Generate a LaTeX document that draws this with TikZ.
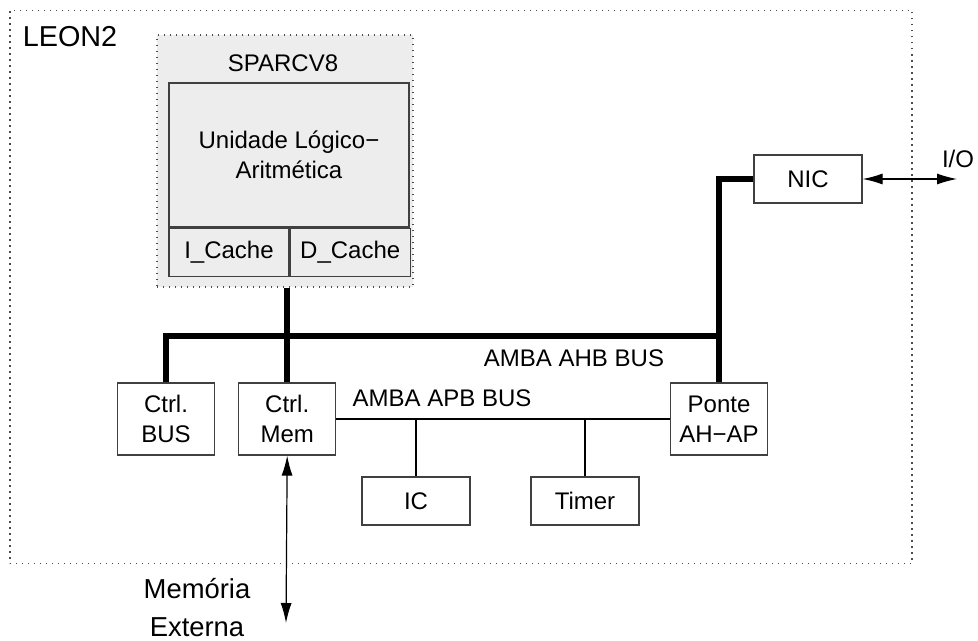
\documentclass[tikz,border=0pt]{standalone}
\usepackage{fontspec}
\setmainfont{Liberation Sans}
\usetikzlibrary{positioning,arrows.meta}

\begin{document}
\begin{tikzpicture}[
x=0.5pt, y=-0.5pt,
font=\fontsize{12}{15}\selectfont,
blocknode/.style={rectangle, draw=black!75, line width=0.6pt, inner sep=0pt, align=center},
ctrlnode/.style={blocknode, minimum width=48.5pt, minimum height=36pt},
smallnode/.style={blocknode, minimum width=54pt, minimum height=24pt},
cachenode/.style={blocknode, minimum width=60pt, minimum height=24pt},
dotbox/.style={rectangle, draw=black!70, line width=0.6pt, dash pattern=on 0.7pt off 2.3pt},
ahbline/.style={line width=3pt},
apbline/.style={line width=1pt},
extarrow/.style={{Latex[length=10pt,width=5.5pt]}-{Latex[length=10pt,width=5.5pt]}, line width=0.6pt},
]
\useasboundingbox (0,0) rectangle (978,641);

% chip and processor
\node[dotbox, minimum width=451pt, minimum height=276.5pt] (Leon) at (461,287) {};
\node[font=\fontsize{14.4}{17}\selectfont] (LeonLbl) at (70,37) {LEON2};
\node[dotbox, fill=black!7, minimum width=128pt, minimum height=126pt] (Sparc) at (285,161) {};
\node (SparcLbl) at (283,63) {SPARCV8};
\node[blocknode, minimum width=120pt, minimum height=72pt] (Alu) at (289,155) {Unidade Lógico−\\Aritmética};
\node[cachenode, anchor=north west] (ICache) at (Alu.south west) {I\_Cache};
\node[cachenode, anchor=north west] (DCache) at (ICache.north east) {D\_Cache};

% peripherals
\node[ctrlnode] (CtrlBus) at (166,419) {Ctrl.\\BUS};
\node[ctrlnode] (CtrlMem) [right=11.5pt of CtrlBus] {Ctrl.\\Mem};
\node[ctrlnode] (Ponte) at (719,419) {Ponte\\AH−AP};
\node[smallnode] (IC) at (416,501) {IC};
\node[smallnode] (Timer) at (585,501) {Timer};
\node[smallnode] (Nic) at (808,179) {NIC};

\node (AhbLbl) at (574,358) {AMBA AHB BUS};
\node (ApbLbl) at (442,398) {AMBA APB BUS};
\node (IoLbl) at (958,159) {I/O};
\node[align=center, font=\fontsize{13.7}{19}\selectfont] (MemLbl) at (197,608) {Memória\\Externa};
\coordinate (ahb) at (0,336);
\coordinate (IoEnd) at (957,179);
\coordinate (MemEnd) at (286,623);

% buses
\draw[ahbline] (CtrlMem.north |- Sparc.south) -- (CtrlMem.north);
\draw[ahbline] (CtrlBus.north) -- (CtrlBus.north |- ahb) -- (Ponte.north |- ahb);
\draw[ahbline] (Ponte.north) |- (Nic.west);
\draw[apbline] (CtrlMem.east) -- (Ponte.west);
\draw[apbline] (IC.north) -- (IC.north |- CtrlMem.east);
\draw[apbline] (Timer.north) -- (Timer.north |- CtrlMem.east);
\draw[extarrow] (Nic.east) -- (IoEnd);
\draw[extarrow] (CtrlMem.south) -- (MemEnd);

\end{tikzpicture}
\end{document}
